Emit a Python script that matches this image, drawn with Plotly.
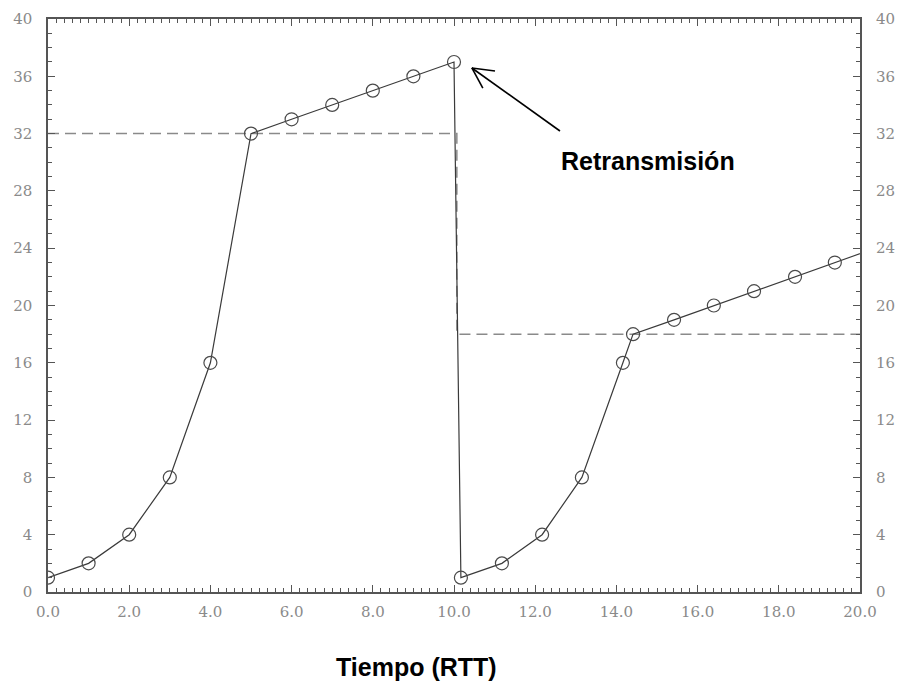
import plotly.graph_objects as go

# data: congestion window vs time (RTT)
t_values = [0, 1, 2, 3, 4, 5, 6, 7, 8, 9, 10,
            10.17, 11.18, 12.17, 13.15, 14.16, 14.41, 15.42, 16.40, 17.39, 18.40, 19.38, 20.38]
cwnd_values = [1, 2, 4, 8, 16, 32, 33, 34, 35, 36, 37,
               1, 2, 4, 8, 16, 18, 19, 20, 21, 22, 23, 24]

thresh_t = [0, 10, 10.07, 10.07, 20]
thresh_values = [32, 32, 32, 18, 18]

x_tick_vals = [0, 2, 4, 6, 8, 10, 12, 14, 16, 18, 20]
y_tick_vals = [0, 4, 8, 12, 16, 20, 24, 28, 32, 36, 40]

# annotation geometry (data coordinates)
arrow_tip = (10.44, 36.58)
arrow_tail = (12.61, 32.18)
arrow_arm1 = (11.01, 36.37)
arrow_arm2 = (10.71, 35.18)
label_pos = (14.78, 30.1)

tick_font = dict(family="DejaVu Serif", size=15, color="#8a8a8a")
axis_col = "#555555"

fig = go.Figure()
fig.add_trace(go.Scatter(
    x=thresh_t, y=thresh_values, mode="lines",
    line=dict(color="#8a8a8a", width=1.5, dash="11px,6px"),
    showlegend=False, hoverinfo="skip"))
fig.add_trace(go.Scatter(
    x=t_values, y=cwnd_values, mode="lines+markers",
    line=dict(color="#3a3a3a", width=1.2),
    marker=dict(symbol="circle-open", size=13, color="#4a4a4a", line=dict(width=1.2)),
    showlegend=False))
# invisible twin for right axis
fig.add_trace(go.Scatter(
    x=t_values, y=cwnd_values, yaxis="y2", mode="lines",
    line=dict(width=0), opacity=0, showlegend=False, hoverinfo="skip"))

arrow_line = dict(color="black", width=1.6)
shapes = [
    dict(type="line", xref="x", yref="y", x0=arrow_tail[0], y0=arrow_tail[1],
         x1=arrow_tip[0], y1=arrow_tip[1], line=arrow_line),
    dict(type="line", xref="x", yref="y", x0=arrow_tip[0], y0=arrow_tip[1],
         x1=arrow_arm1[0], y1=arrow_arm1[1], line=arrow_line),
    dict(type="line", xref="x", yref="y", x0=arrow_tip[0], y0=arrow_tip[1],
         x1=arrow_arm2[0], y1=arrow_arm2[1], line=arrow_line),
]

fig.update_layout(
    width=903, height=682,
    margin=dict(l=48, r=43, t=19, b=90),
    paper_bgcolor="white", plot_bgcolor="white",
    xaxis=dict(range=[0, 20], tickvals=x_tick_vals, tickformat=".1f",
               showgrid=False, zeroline=False, automargin=False,
               showline=True, linecolor=axis_col, linewidth=1.5, mirror="ticks",
               ticks="inside", ticklen=7, tickcolor=axis_col, tickwidth=1.2,
               minor=dict(dtick=0.2, ticks="inside", ticklen=4, tickcolor=axis_col),
               tickfont=tick_font, ticklabelstandoff=5),
    yaxis=dict(range=[0, 40], tickvals=y_tick_vals,
               showgrid=False, zeroline=False, automargin=False,
               showline=True, linecolor=axis_col, linewidth=1.5, mirror="ticks",
               ticks="inside", ticklen=7, tickcolor=axis_col, tickwidth=1.2,
               minor=dict(dtick=1, ticks="inside", ticklen=4, tickcolor=axis_col),
               tickfont=tick_font, ticklabelstandoff=11),
    yaxis2=dict(range=[0, 40], tickvals=y_tick_vals, overlaying="y", side="right",
                showgrid=False, zeroline=False, showline=False, automargin=False,
                ticks="", tickfont=tick_font, ticklabelstandoff=15),
    shapes=shapes,
    annotations=[
        dict(x=label_pos[0], y=label_pos[1], xref="x", yref="y", showarrow=False,
             text="<b>Retransmisión</b>",
             font=dict(family="Arial", size=25, color="black")),
        dict(x=0.4544, y=-0.1309, xref="paper", yref="paper", showarrow=False,
             xanchor="center", yanchor="middle",
             text="<b>Tiempo (RTT)</b>",
             font=dict(family="Arial", size=25, color="black")),
    ],
)

fig.write_html("out.html",
               config={"displayModeBar": False},
               post_script="document.body.style.margin='0';document.body.style.overflow='hidden';")
